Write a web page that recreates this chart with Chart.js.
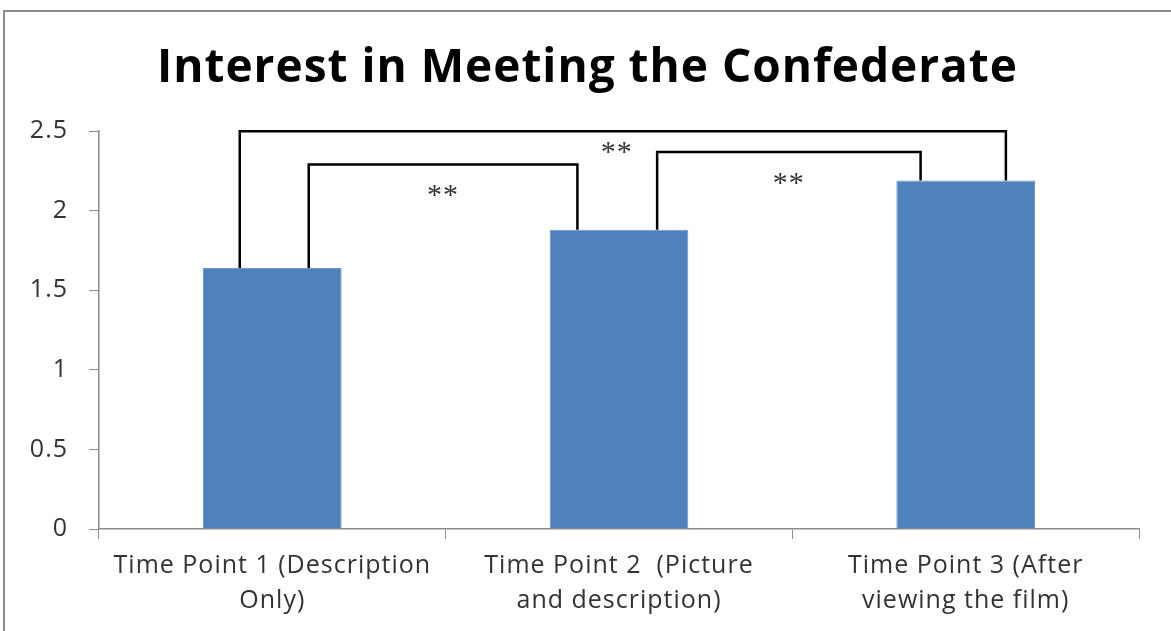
<!DOCTYPE html>
<html>
<head>
<meta charset="utf-8">
<script src="https://cdn.jsdelivr.net/npm/chart.js@4"></script>
<style>
  body { margin: 0; background: #fff; }
  #wrap { width: 1171px; height: 631px; position: relative; }
</style>
</head>
<body>
<div id="wrap"><canvas id="interest-chart"></canvas></div>
<script>
// chart values
const categories = [
  ["Time Point 1 (Description", "Only)"],
  ["Time Point 2  (Picture", "and description)"],
  ["Time Point 3 (After", "viewing the film)"],
];
const interestMeans = [1.64, 1.88, 2.19];
const yTicks = [0, 0.5, 1, 1.5, 2, 2.5];

// significance brackets: pairs of bars, height of the bracket, label
const bracketPairs = [[0, 2], [0, 1], [1, 2]];
const bracketHeights = [2.5, 2.29, 2.37];
const bracketLabels = ["**", "**", "**"];

// the reference font is a bit wider than ours, so space the letters out
const spacing = (chart) => {
  chart.ctx.letterSpacing = "1px";
};

// draws the outer frame and the significance brackets
const bracketPlugin = {
  id: "brackets",
  beforeUpdate: spacing,
  beforeLayout: spacing,
  afterLayout(chart) {
    // title in the reference sits a little right of centre
    if (chart.titleBlock) {
      chart.titleBlock.left += 10;
      chart.titleBlock.right += 10;
    }
  },
  beforeDraw(chart) {
    spacing(chart);
    const { ctx } = chart;
    ctx.save();
    ctx.strokeStyle = "#8c8c8c";
    ctx.lineWidth = 2;
    ctx.strokeRect(4, 11, chart.width + 20, chart.height + 20);
    ctx.restore();
  },
  afterDatasetsDraw(chart) {
    const { ctx } = chart;
    const x = chart.scales.x;
    const y = chart.scales.y;
    // horizontal inset of each leg from bar centre (in category units)
    const insets = [[-0.094, 0.116], [0.105, -0.12], [0.11, -0.13]];

    ctx.save();
    ctx.strokeStyle = "#000";
    ctx.lineWidth = 2.5;
    bracketPairs.forEach(([a, b], i) => {
      const x1 = x.getPixelForValue(a + insets[i][0]);
      const x2 = x.getPixelForValue(b + insets[i][1]);
      const yTop = y.getPixelForValue(bracketHeights[i]);
      ctx.beginPath();
      ctx.moveTo(x1, y.getPixelForValue(interestMeans[a]));
      ctx.lineTo(x1, yTop);
      ctx.lineTo(x2, yTop);
      ctx.lineTo(x2, y.getPixelForValue(interestMeans[b]));
      ctx.stroke();

      ctx.fillStyle = "#333";
      ctx.font = "30px 'Liberation Serif'";
      ctx.textAlign = "center";
      ctx.textBaseline = "middle";
      const lx = (x1 + x2) / 2 + (i === 0 ? -6 : 0);
      ctx.fillText(bracketLabels[i], lx, yTop + (i === 0 ? 22 : 32));
    });
    ctx.restore();
  },
};

const ctxInterest = document.getElementById("interest-chart");

new Chart(ctxInterest, {
  type: "bar",
  data: {
    labels: categories,
    datasets: [
      {
        label: "Interest",
        data: interestMeans,
        backgroundColor: "#4f81bd",
        borderColor: "#6f97c9",
        borderWidth: { top: 1, left: 1, right: 1, bottom: 0 },
        categoryPercentage: 0.4,
        barPercentage: 1,
      },
    ],
  },
  options: {
    responsive: true,
    maintainAspectRatio: false,
    animation: false,
    layout: { padding: { left: 16, right: 32, top: 0, bottom: 0 } },
    scales: {
      x: {
        grid: {
          drawOnChartArea: false,
          drawTicks: true,
          tickLength: 10,
          color: "#8c8c8c",
          offset: true,
        },
        border: { color: "#8c8c8c", width: 1.5 },
        ticks: {
          color: "#333",
          font: { family: "Open Sans", size: 25, lineHeight: 1.4 },
          padding: 9,
          maxRotation: 0,
        },
        afterFit: (scale) => {
          scale.height = 102;
        },
      },
      y: {
        min: 0,
        max: 2.5,
        afterBuildTicks: (scale) => {
          scale.ticks = yTicks.map((v) => ({ value: v }));
        },
        grid: {
          drawOnChartArea: false,
          drawTicks: true,
          tickLength: 10,
          color: "#8c8c8c",
        },
        border: { color: "#8c8c8c", width: 1.5 },
        ticks: {
          color: "#333",
          font: { family: "Open Sans", size: 25 },
          padding: 21,
          callback: (value) => String(value),
        },
        afterFit: (scale) => {
          scale.width = 83;
        },
      },
    },
    plugins: {
      legend: { display: false },
      tooltip: { enabled: false },
      title: {
        display: true,
        text: "Interest in Meeting the Confederate",
        color: "#000",
        font: { family: "Open Sans", size: 46, weight: "bold" },
        padding: { top: 41, bottom: 35 },
      },
    },
  },
  plugins: [bracketPlugin],
});
</script>
</body>
</html>
